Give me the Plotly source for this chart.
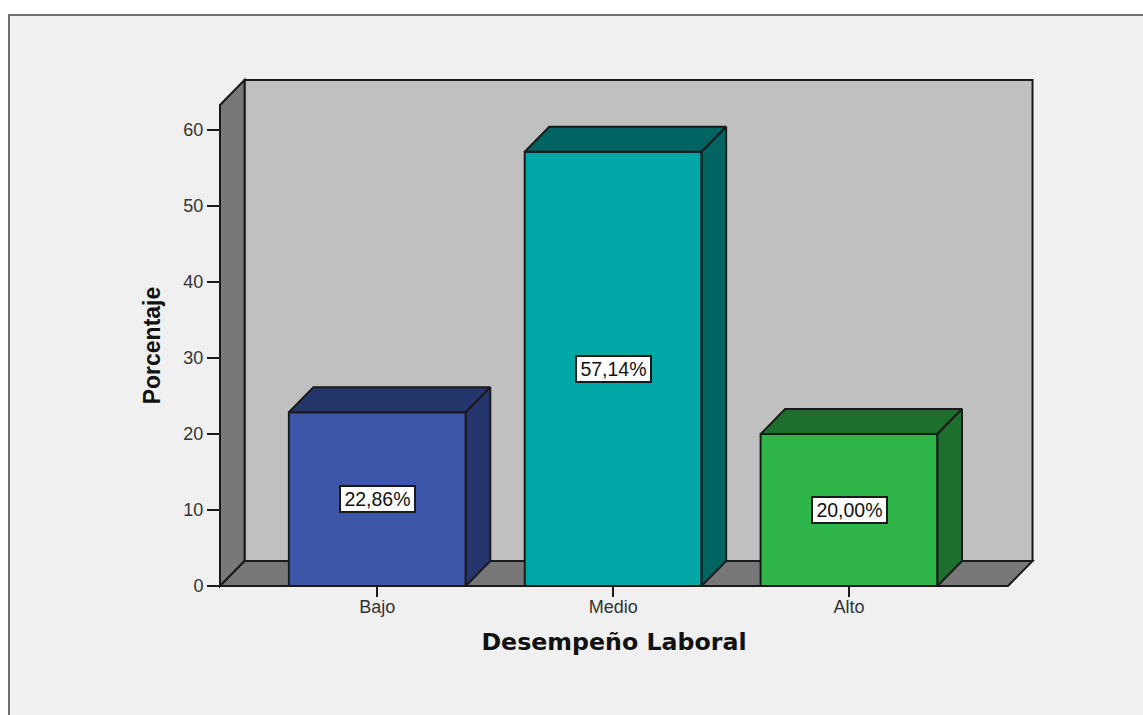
import plotly.graph_objects as go

# Chart data
categories = ["Bajo", "Medio", "Alto"]
percentages = [22.86, 57.14, 20.00]
value_labels = ["22,86%", "57,14%", "20,00%"]
y_ticks = [0, 10, 20, 30, 40, 50, 60]

# Colours per bar: front face, then the darker top and side faces
front_colors = ["#3d56a8", "#00a7a6", "#2fb64a"]
shade_colors = ["#24366b", "#006462", "#1e6f2e"]

EDGE = "#1a1a1a"
WALL = "#c0c0c0"
SHADE = "#787878"
PAGE = "#f0f0f0"
FRAME = "#6e6e6e"
TICK_TEXT = "#333333"
LINE_WIDTH = 2

# Page and plot rectangle, in pixels
WIDTH = 1143
HEIGHT = 715
MARGIN_L = 220
MARGIN_R = 135
MARGIN_T = 105
MARGIN_B = 129
FRAME_LEFT = 9
FRAME_TOP = 15

# Geometry of the pseudo-3D box, in axis units
BAR_WIDTH = 0.75
DEPTH_X = 0.104
DEPTH_Y = 3.29
X_MIN = -0.667
X_MAX = 2.674
Y_MAX = 63.3

positions = list(range(len(categories)))


def to_paper_x(x):
    return (x - X_MIN) / (X_MAX - X_MIN)


def to_paper_y(y):
    return y / Y_MAX


def polygon_path(points):
    return "M " + " L ".join(f"{to_paper_x(x)},{to_paper_y(y)}" for x, y in points) + " Z"


fig = go.Figure()

# Front faces of the bars
fig.add_trace(go.Bar(
    x=positions,
    y=percentages,
    width=BAR_WIDTH,
    marker=dict(color=front_colors, line=dict(color=EDGE, width=LINE_WIDTH)),
    hoverinfo="skip",
    showlegend=False,
))

# Top and side faces of each bar
for pos, value, shade in zip(positions, percentages, shade_colors):
    left = pos - BAR_WIDTH / 2
    right = pos + BAR_WIDTH / 2
    top_face = [(left, value), (right, value),
                (right + DEPTH_X, value + DEPTH_Y), (left + DEPTH_X, value + DEPTH_Y),
                (left, value)]
    side_face = [(right, 0), (right + DEPTH_X, DEPTH_Y),
                 (right + DEPTH_X, value + DEPTH_Y), (right, value), (right, 0)]
    for face in (top_face, side_face):
        fig.add_trace(go.Scatter(
            x=[p[0] for p in face],
            y=[p[1] for p in face],
            mode="lines",
            fill="toself",
            fillcolor=shade,
            line=dict(color=EDGE, width=LINE_WIDTH),
            cliponaxis=False,
            hoverinfo="skip",
            showlegend=False,
        ))

# Grey panel with a rule along its top and left edges; the page stays white outside it
plot_w = WIDTH - MARGIN_L - MARGIN_R
plot_h = HEIGHT - MARGIN_T - MARGIN_B
panel_x0 = (FRAME_LEFT - MARGIN_L) / plot_w
panel_x1 = (WIDTH + 10 - MARGIN_L) / plot_w
panel_y0 = -(MARGIN_B + 10) / plot_h
panel_y1 = (HEIGHT - FRAME_TOP - MARGIN_B) / plot_h
shapes = [
    dict(type="rect", xref="paper", yref="paper", layer="below",
         x0=panel_x0, x1=panel_x1, y0=panel_y0, y1=panel_y1,
         fillcolor=PAGE, line=dict(color=FRAME, width=2)),
]

# Back wall, left wall and floor of the box sit behind the bars
box_faces = [
    ([(X_MIN + DEPTH_X, DEPTH_Y), (X_MAX + DEPTH_X, DEPTH_Y),
      (X_MAX + DEPTH_X, Y_MAX + DEPTH_Y), (X_MIN + DEPTH_X, Y_MAX + DEPTH_Y)], WALL),
    ([(X_MIN, 0), (X_MIN + DEPTH_X, DEPTH_Y),
      (X_MIN + DEPTH_X, Y_MAX + DEPTH_Y), (X_MIN, Y_MAX)], SHADE),
    ([(X_MIN, 0), (X_MAX, 0), (X_MAX + DEPTH_X, DEPTH_Y), (X_MIN + DEPTH_X, DEPTH_Y)], SHADE),
]
shapes += [
    dict(type="path", path=polygon_path(points), xref="paper", yref="paper", layer="below",
         fillcolor=color, line=dict(color=EDGE, width=LINE_WIDTH))
    for points, color in box_faces
]

# Value labels in white boxes, centred on each bar
annotations = [
    dict(x=pos, y=value / 2, text=label, showarrow=False,
         font=dict(family="Liberation Sans", size=19.5, color="#111111"),
         width=71, height=22, borderpad=1,
         bgcolor="white", bordercolor=EDGE, borderwidth=2)
    for pos, value, label in zip(positions, percentages, value_labels)
]

fig.update_layout(
    width=WIDTH,
    height=HEIGHT,
    margin=dict(l=MARGIN_L, r=MARGIN_R, t=MARGIN_T, b=MARGIN_B, pad=0),
    paper_bgcolor="white",
    plot_bgcolor="rgba(0,0,0,0)",
    barmode="overlay",
    showlegend=False,
    font=dict(family="Liberation Sans", color=TICK_TEXT),
    shapes=shapes,
    annotations=annotations,
    xaxis=dict(
        range=[X_MIN, X_MAX],
        tickmode="array",
        tickvals=positions,
        ticktext=categories,
        ticks="outside",
        ticklen=10,
        tickwidth=LINE_WIDTH,
        tickcolor=EDGE,
        tickfont=dict(size=18, color=TICK_TEXT),
        ticklabelstandoff=-6,
        showgrid=False,
        zeroline=False,
        showline=False,
        title=dict(text="<b>Desempeño Laboral</b>",
                   font=dict(family="DejaVu Sans", size=23.7, color="#111111"), standoff=17),
    ),
    yaxis=dict(
        range=[0, Y_MAX],
        tickmode="array",
        tickvals=y_ticks,
        ticks="outside",
        ticklen=12,
        tickwidth=LINE_WIDTH,
        tickcolor=EDGE,
        tickfont=dict(size=18, color=TICK_TEXT),
        showgrid=False,
        zeroline=False,
        showline=False,
        title=dict(text="<b>Porcentaje</b>",
                   font=dict(family="Liberation Sans", size=23, color="#111111"), standoff=16),
    ),
)

fig.write_html("out.html")
